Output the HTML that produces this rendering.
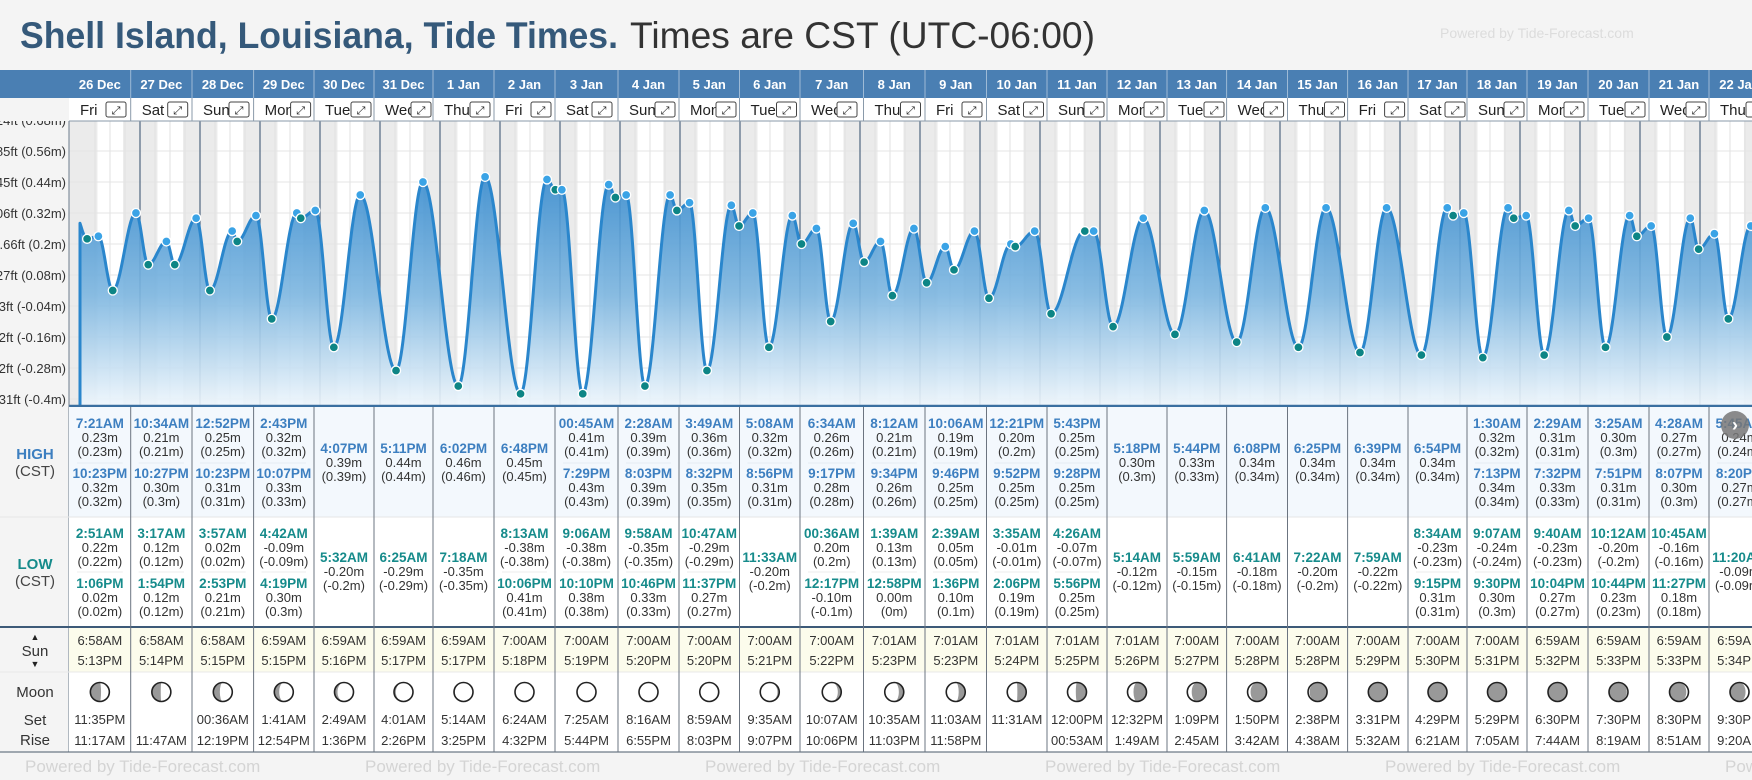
<!DOCTYPE html>
<html><head><meta charset="utf-8"><style>
html,body{margin:0;padding:0;background:#f4f4f4;}
svg{display:block;font-family:"Liberation Sans",sans-serif;}
</style></head><body>
<svg id="s" width="1752" height="780" viewBox="0 0 1752 780" xmlns="http://www.w3.org/2000/svg">
<defs>
<linearGradient id="fillg" gradientUnits="userSpaceOnUse" x1="0" y1="160" x2="0" y2="406">
<stop offset="0" stop-color="#2f86cc"/><stop offset="0.55" stop-color="#7db6e0"/><stop offset="1" stop-color="#eef6fc"/>
</linearGradient>
<clipPath id="chartclip"><rect x="69" y="121" width="1683" height="285"/></clipPath>
</defs>
<rect x="0" y="0" width="1752" height="780" fill="#f4f4f4"/>
<text x="20" y="48" font-size="37" font-weight="bold" fill="#35597a" textLength="598" lengthAdjust="spacingAndGlyphs">Shell Island, Louisiana, Tide Times.</text>
<text x="630" y="48" font-size="37" fill="#333" textLength="465" lengthAdjust="spacingAndGlyphs">Times are CST (UTC-06:00)</text>
<text x="1440" y="38" font-size="14" fill="#dcdcdc">Powered by Tide-Forecast.com</text>
<g id="chart"></g>
<g id="table"></g>
</svg>
<script>
const days=['26 Dec','27 Dec','28 Dec','29 Dec','30 Dec','31 Dec','1 Jan','2 Jan','3 Jan','4 Jan','5 Jan','6 Jan','7 Jan','8 Jan','9 Jan','10 Jan','11 Jan','12 Jan','13 Jan','14 Jan','15 Jan','16 Jan','17 Jan','18 Jan','19 Jan','20 Jan','21 Jan','22 Jan'];
const weekdays=['Fri','Sat','Sun','Mon','Tue','Wed','Thu','Fri','Sat','Sun','Mon','Tue','Wed','Thu','Fri','Sat','Sun','Mon','Tue','Wed','Thu','Fri','Sat','Sun','Mon','Tue','Wed','Thu'];
const highs=[
[['7:21AM','0.23'],['10:23PM','0.32']],[['10:34AM','0.21'],['10:27PM','0.30']],[['12:52PM','0.25'],['10:23PM','0.31']],[['2:43PM','0.32'],['10:07PM','0.33']],
[['4:07PM','0.39']],[['5:11PM','0.44']],[['6:02PM','0.46']],[['6:48PM','0.45']],
[['00:45AM','0.41'],['7:29PM','0.43']],[['2:28AM','0.39'],['8:03PM','0.39']],[['3:49AM','0.36'],['8:32PM','0.35']],[['5:08AM','0.32'],['8:56PM','0.31']],
[['6:34AM','0.26'],['9:17PM','0.28']],[['8:12AM','0.21'],['9:34PM','0.26']],[['10:06AM','0.19'],['9:46PM','0.25']],[['12:21PM','0.20'],['9:52PM','0.25']],
[['5:43PM','0.25'],['9:28PM','0.25']],[['5:18PM','0.30']],[['5:44PM','0.33']],[['6:08PM','0.34']],[['6:25PM','0.34']],[['6:39PM','0.34']],[['6:54PM','0.34']],
[['1:30AM','0.32'],['7:13PM','0.34']],[['2:29AM','0.31'],['7:32PM','0.33']],[['3:25AM','0.30'],['7:51PM','0.31']],[['4:28AM','0.27'],['8:07PM','0.30']],[['5:45AM','0.24'],['8:20PM','0.27']]];
const lows=[
[['2:51AM','0.22'],['1:06PM','0.02']],[['3:17AM','0.12'],['1:54PM','0.12']],[['3:57AM','0.02'],['2:53PM','0.21']],[['4:42AM','-0.09'],['4:19PM','0.30']],
[['5:32AM','-0.20']],[['6:25AM','-0.29']],[['7:18AM','-0.35']],[['8:13AM','-0.38'],['10:06PM','0.41']],
[['9:06AM','-0.38'],['10:10PM','0.38']],[['9:58AM','-0.35'],['10:46PM','0.33']],[['10:47AM','-0.29'],['11:37PM','0.27']],[['11:33AM','-0.20']],
[['00:36AM','0.20'],['12:17PM','-0.10']],[['1:39AM','0.13'],['12:58PM','0.00']],[['2:39AM','0.05'],['1:36PM','0.10']],[['3:35AM','-0.01'],['2:06PM','0.19']],
[['4:26AM','-0.07'],['5:56PM','0.25']],[['5:14AM','-0.12']],[['5:59AM','-0.15']],[['6:41AM','-0.18']],[['7:22AM','-0.20']],[['7:59AM','-0.22']],[['8:34AM','-0.23'],['9:15PM','0.31']],
[['9:07AM','-0.24'],['9:30PM','0.30']],[['9:40AM','-0.23'],['10:04PM','0.27']],[['10:12AM','-0.20'],['10:44PM','0.23']],[['10:45AM','-0.16'],['11:27PM','0.18']],[['11:20AM','-0.09']]];
const prevExtreme=[-2.2,0.32];
const nextExtreme=[673,0.12];
const sunrise=['6:58AM','6:58AM','6:58AM','6:59AM','6:59AM','6:59AM','6:59AM','7:00AM','7:00AM','7:00AM','7:00AM','7:00AM','7:00AM','7:01AM','7:01AM','7:01AM','7:01AM','7:01AM','7:00AM','7:00AM','7:00AM','7:00AM','7:00AM','7:00AM','6:59AM','6:59AM','6:59AM','6:59AM'];
const sunset=['5:13PM','5:14PM','5:15PM','5:15PM','5:16PM','5:17PM','5:17PM','5:18PM','5:19PM','5:20PM','5:20PM','5:21PM','5:22PM','5:23PM','5:23PM','5:24PM','5:25PM','5:26PM','5:27PM','5:28PM','5:28PM','5:29PM','5:30PM','5:31PM','5:32PM','5:33PM','5:33PM','5:34PM'];
const moonSet=['11:35PM','','00:36AM','1:41AM','2:49AM','4:01AM','5:14AM','6:24AM','7:25AM','8:16AM','8:59AM','9:35AM','10:07AM','10:35AM','11:03AM','11:31AM','12:00PM','12:32PM','1:09PM','1:50PM','2:38PM','3:31PM','4:29PM','5:29PM','6:30PM','7:30PM','8:30PM','9:30PM'];
const moonRise=['11:17AM','11:47AM','12:19PM','12:54PM','1:36PM','2:26PM','3:25PM','4:32PM','5:44PM','6:55PM','8:03PM','9:07PM','10:06PM','11:03PM','11:58PM','','00:53AM','1:49AM','2:45AM','3:42AM','4:38AM','5:32AM','6:21AM','7:05AM','7:44AM','8:19AM','8:51AM','9:20AM'];
const moonPhase=[0.23,0.26,0.30,0.33,0.37,0.40,0.43,0.47,0.50,0.53,0.57,0.60,0.64,0.67,0.70,0.74,0.77,0.81,0.84,0.87,0.91,0.94,0.98,0.01,0.04,0.08,0.11,0.14];
const yTicksM=[0.68,0.56,0.44,0.32,0.2,0.08,-0.04,-0.16,-0.28,-0.4];
const yTicksFt=['2.24ft','1.85ft','1.45ft','1.06ft','0.66ft','0.27ft','-0.13ft','-0.52ft','-0.92ft','-1.31ft'];
const colEdges=[69,130.7,192,253.6,314,374,433,494,555,618,679,739.5,800,863.5,925,986.5,1047,1107,1167,1226.6,1287.5,1347.6,1408,1467,1527,1588,1649,1709,1770];

const NS='http://www.w3.org/2000/svg';
function mk(tag,attrs,parent,txt){const e=document.createElementNS(NS,tag);for(const k in attrs)e.setAttribute(k,attrs[k]);if(txt!==undefined)e.textContent=txt;parent.appendChild(e);return e;}
function hrs(s){const m=s.match(/(\d+):(\d+)(AM|PM)/);let h=+m[1]%12;if(m[3]==='PM')h+=12;return h+ +m[2]/60;}
const xT=t=>80+t*2.5;
const yV=v=>244-(v-0.2)*258.3;
const chart=document.getElementById('chart');
const table=document.getElementById('table');
const cg=mk('g',{'clip-path':'url(#chartclip)'},chart);
mk('rect',{x:69,y:121,width:1683,height:285,fill:'#fff'},cg);
for(let i=-1;i<days.length;i++){
  const s=i<0?-24:i*24+hrs(sunset[i]);
  const e=i+1<days.length?(i+1)*24+hrs(sunrise[i+1]):(i+1)*24+7;
  const r=mk('rect',{x:xT(s),y:121,width:xT(e)-xT(s),height:285,fill:'#ebebeb'},cg);
  
  
}
for(let t=0;t<days.length*24+24;t+=6){
  if(t%24===0)continue;
  mk('line',{x1:xT(t),x2:xT(t),y1:121,y2:406,stroke:'#e2e2e2','stroke-width':1},cg);
}
yTicksM.forEach(v=>mk('line',{x1:69,x2:1752,y1:yV(v),y2:yV(v),stroke:'#e4e4e4','stroke-width':1},cg));
for(let i=1;i<=days.length;i++){
  const l=mk('line',{x1:xT(i*24),x2:xT(i*24),y1:121,y2:406,stroke:'#4f6680','stroke-width':1.2},cg);
  
  
}
const ev=[];
days.forEach((d,i)=>{highs[i].forEach(h=>ev.push({t:i*24+hrs(h[0]),v:+h[1],hi:true}));lows[i].forEach(h=>ev.push({t:i*24+hrs(h[0]),v:+h[1],hi:false}));});
ev.sort((a,b)=>a.t-b.t);
const all=[{t:prevExtreme[0],v:prevExtreme[1]}].concat(ev,[{t:nextExtreme[0],v:nextExtreme[1]}]);
const pts=[];
for(let k=0;k<all.length-1;k++){
  const a=all[k],b=all[k+1];
  for(let t=Math.max(a.t,0);t<b.t;t+=0.2){
    if(t<0)continue;
    const f=(1-Math.cos(Math.PI*(t-a.t)/(b.t-a.t)))/2;
    pts.push([xT(t),yV(a.v+(b.v-a.v)*f)]);
  }
}
let d='M'+pts.map(p=>p[0].toFixed(1)+','+p[1].toFixed(1)).join('L');
const area=mk('path',{d:'M80,406L'+d.slice(1)+'L'+pts[pts.length-1][0].toFixed(1)+',406Z',fill:'url(#fillg)','fill-opacity':0.9},cg);


const line=mk('path',{d:'M80,406L'+d.slice(1),fill:'none',stroke:'#2a86cc','stroke-width':3,'stroke-linejoin':'round'},cg);


ev.forEach(e=>{
  const c=mk('circle',{cx:xT(e.t),cy:yV(e.v),r:4.5,fill:e.hi?'#3aa3e6':'#0d8585',stroke:'#fff','stroke-width':1.3},cg);
  
  
});
mk('line',{x1:69,x2:1752,y1:406,y2:406,stroke:'#3a6fa0','stroke-width':2.5},chart);
mk('rect',{x:0,y:98,width:69,height:654,fill:'#f4f4f4'},chart);
mk('line',{x1:69,x2:69,y1:70,y2:752,stroke:'#6b7b8c','stroke-width':1},chart);
yTicksM.forEach((v,i)=>{
  const t=mk('text',{x:66,y:yV(v)+5,'font-size':13,'text-anchor':'end',fill:'#333'},chart,yTicksFt[i]+' ('+(+v.toFixed(2))+'m)');
  
  
});
mk('rect',{x:0,y:96,width:69,height:25,fill:'#f4f4f4'},chart);
mk('rect',{x:0,y:70,width:1752,height:28,fill:'#4a7fb3'},table);
mk('rect',{x:69,y:98,width:1683,height:23,fill:'#fff'},table);
mk('rect',{x:69,y:407,width:1683,height:110,fill:'#f3f8fd'},table);
mk('rect',{x:69,y:517,width:1683,height:109,fill:'#fff'},table);
mk('line',{x1:0,x2:1752,y1:517,y2:517,stroke:'#e6e6e6'},table);
mk('rect',{x:0,y:626,width:1752,height:2,fill:'#3d5a78'},table);
mk('rect',{x:69,y:628,width:1683,height:44,fill:'#fcfcec'},table);
mk('rect',{x:69,y:672,width:1683,height:80,fill:'#fff'},table);
mk('line',{x1:0,x2:1752,y1:672,y2:672,stroke:'#e8e8e8'},table);
mk('line',{x1:0,x2:1752,y1:752,y2:752,stroke:'#4a5a6a'},table);
mk('line',{x1:69,x2:1752,y1:121,y2:121,stroke:'#8a9aaa'},table);
function paren(v){return '('+parseFloat(v)+'m)';}
function entry(g,cx,y,e,col){
  const t=mk('text',{x:cx,y:y,'text-anchor':'middle','font-size':13.5,'font-weight':'bold',fill:col},g,e[0]);
  
  
  mk('text',{x:cx,y:y+14,'text-anchor':'middle','font-size':13,fill:'#333'},g,e[1]+'m');
  mk('text',{x:cx,y:y+28,'text-anchor':'middle','font-size':13,fill:'#333'},g,paren(e[1]));
}
function moon(g,cx,cy,p){
  const r=9.5;
  mk('circle',{cx:cx,cy:cy,r:r,fill:'#999'},g);
  const k=(1-Math.cos(2*Math.PI*p))/2;
  const rx=Math.abs(1-2*k)*r;
  const sw=k<0.5?0:1;
  const mg=mk('g',{transform:'translate('+cx+','+cy+')'+(p>0.5?' scale(-1,1)':'')},g);
  mk('path',{d:`M0,${-r}A${r},${r} 0 0 1 0,${r}A${rx.toFixed(2)},${r} 0 0 ${sw} 0,${-r}Z`,fill:'#fff'},mg);
  mk('circle',{cx:cx,cy:cy,r:r,fill:'none',stroke:'#222','stroke-width':1.6},g);
}
days.forEach((day,i)=>{
  const x0=colEdges[i],x1=colEdges[i+1],cx=(x0+x1)/2;
  const g=mk('g',{},table);
  
  
  mk('text',{x:cx,y:89,'text-anchor':'middle','font-size':13,'font-weight':'bold',fill:'#fff'},g,day);
  mk('text',{x:x0+11,y:115,'font-size':15,fill:'#222'},g,weekdays[i]);
  const b=mk('g',{},g);
  
  
  mk('rect',{x:x0+37,y:102,width:20,height:15,rx:2,fill:'#fff',stroke:'#444','stroke-width':1},b);
  mk('text',{x:x0+47,y:114,'text-anchor':'middle','font-size':11,fill:'#222'},b,'⤢');
  const H=highs[i];
  if(H.length===2){entry(g,cx,428,H[0],'#3d7fc0');mk('line',{x1:x0+8,x2:x1-8,y1:463,y2:463,stroke:'#e4ebf2'},g);entry(g,cx,478,H[1],'#3d7fc0');}
  else entry(g,cx,453,H[0],'#3d7fc0');
  const L=lows[i];
  if(L.length===2){entry(g,cx,538,L[0],'#168b8b');mk('line',{x1:x0+8,x2:x1-8,y1:572,y2:572,stroke:'#ececec'},g);entry(g,cx,588,L[1],'#168b8b');}
  else entry(g,cx,562,L[0],'#168b8b');
  mk('text',{x:cx,y:645,'text-anchor':'middle','font-size':13,fill:'#333'},g,sunrise[i]);
  mk('text',{x:cx,y:665,'text-anchor':'middle','font-size':13,fill:'#333'},g,sunset[i]);
  moon(g,cx,692,moonPhase[i]);
  mk('text',{x:cx,y:724,'text-anchor':'middle','font-size':13,fill:'#333'},g,moonSet[i]);
  mk('text',{x:cx,y:745,'text-anchor':'middle','font-size':13,fill:'#333'},g,moonRise[i]);
  if(i>0){
    mk('line',{x1:x0,x2:x0,y1:70,y2:98,stroke:'#9dbad6'},g);
    mk('line',{x1:x0,x2:x0,y1:98,y2:121,stroke:'#8a9aaa'},g);
    mk('line',{x1:x0,x2:x0,y1:407,y2:752,stroke:'#6b7480'},g);
  }
});
const L1=mk('text',{x:35,y:459,'text-anchor':'middle','font-size':15,'font-weight':'bold',fill:'#3d7fc0'},table,'HIGH');

mk('text',{x:35,y:476,'text-anchor':'middle','font-size':15,fill:'#444'},table,'(CST)');
const L2=mk('text',{x:35,y:569,'text-anchor':'middle','font-size':15,'font-weight':'bold',fill:'#168b8b'},table,'LOW');

mk('text',{x:35,y:586,'text-anchor':'middle','font-size':15,fill:'#444'},table,'(CST)');
mk('text',{x:35,y:640,'text-anchor':'middle','font-size':9,fill:'#222'},table,'▲');
mk('text',{x:35,y:656,'text-anchor':'middle','font-size':15,fill:'#333'},table,'Sun');
mk('text',{x:35,y:667,'text-anchor':'middle','font-size':9,fill:'#222'},table,'▼');
mk('text',{x:35,y:697,'text-anchor':'middle','font-size':15,fill:'#333'},table,'Moon');
mk('text',{x:35,y:725,'text-anchor':'middle','font-size':15,fill:'#333'},table,'Set');
mk('text',{x:35,y:745,'text-anchor':'middle','font-size':15,fill:'#333'},table,'Rise');
const nb=mk('g',{},table);


mk('circle',{cx:1735,cy:425,r:14,fill:'#777','fill-opacity':0.85},nb);
mk('text',{x:1735,y:431,'text-anchor':'middle','font-size':18,'font-weight':'bold',fill:'#fff'},nb,'›');
for(let k=0;k<6;k++){
  const f=mk('text',{x:25+k*340,y:772,'font-size':17,fill:'#d4d4d4'},table,'Powered by Tide-Forecast.com');
  
  
}
</script>
</body></html>
